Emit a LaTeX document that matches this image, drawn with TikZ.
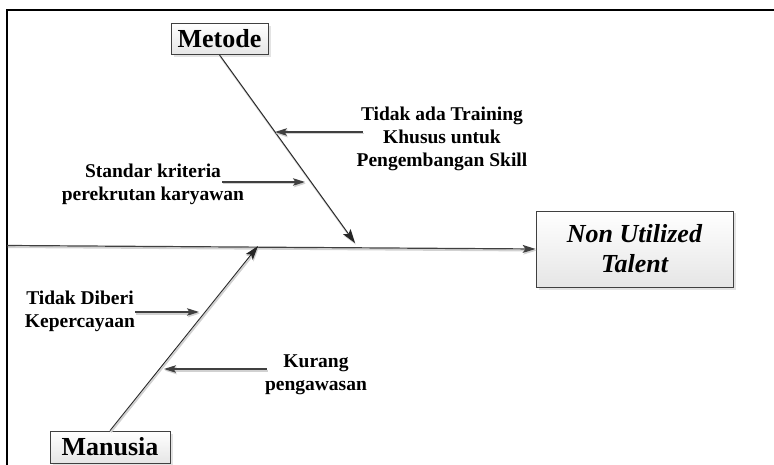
\documentclass[tikz,border=0pt]{standalone}
\usepackage{fontspec}
\setmainfont{Liberation Serif}
\usetikzlibrary{arrows.meta,shadows}
\begin{document}
\begin{tikzpicture}[x=1pt,y=-1pt,
  box/.style={draw=black!75, line width=0.8pt, top color=white, bottom color=black!10,
    drop shadow={shadow xshift=2.5pt, shadow yshift=-2.5pt, fill=black!22}, inner sep=0pt},
  causebox/.style={box, font=\fontsize{26}{30}\selectfont\bfseries},
  effectbox/.style={box, align=center, minimum width=197, minimum height=76,
    font=\fontsize{26}{30}\selectfont\bfseries\itshape},
  label/.style={align=center, inner sep=0pt, font=\fontsize{19.5}{23}\selectfont\bfseries},
  lineshadow/.style={preaction={draw=black!18, line width=1.8pt, transform canvas={shift={(0.8pt,-1.6pt)}}}},
  bone/.style={draw=black!85, line width=0.9pt, -{Stealth[length=14pt,width=9pt,inset=3pt]}, lineshadow},
  spine/.style={draw=black!75, line width=1.2pt, -{Stealth[length=13pt,width=8pt,inset=3pt]}, lineshadow},
  subarrow/.style={draw=black!75, line width=1.2pt, -{Stealth[length=12pt,width=7.5pt,inset=2.5pt]}, lineshadow}
]
\useasboundingbox (0,0) rectangle (774,465);

% page frame (top and left edges)
\draw[line width=1.2pt] (7,465) -- (7,10) -- (774,10);

% effect and main categories
\node[effectbox] (effect) at (634.5,249) {Non Utilized\\Talent};
\node[causebox, minimum width=97, minimum height=31] (metode) at (219.5,39) {Metode};
\node[causebox, minimum width=120, minimum height=32] (manusia) at (110,447) {Manusia};

% spine and bones
\coordinate (tail) at (7,245.5);
\coordinate (mhit) at (355,243);
\coordinate (hhit) at (258,246);
\draw[spine] (tail) -- (effect.west);
\draw[bone] (metode.south) -- (mhit);
\draw[bone] (manusia.north) -- (hhit);

% causes on the Metode bone
\node[label] (c1) at (442,139) {Tidak ada Training\\Khusus untuk\\Pengembangan Skill};
\coordinate (c1s) at (363,132);
\coordinate (c1e) at (275,132);
\draw[subarrow] (c1s) -- (c1e);

\node[label] (c2) at (153,184) {Standar kriteria\\perekrutan karyawan};
\coordinate (c2s) at (222,182);
\coordinate (c2e) at (305,182);
\draw[subarrow] (c2s) -- (c2e);

% causes on the Manusia bone
\node[label] (c3) at (80,311.5) {Tidak Diberi\\Kepercayaan};
\coordinate (c3s) at (135,312);
\coordinate (c3e) at (199,312);
\draw[subarrow] (c3s) -- (c3e);

\node[label] (c4) at (316,375) {Kurang\\pengawasan};
\coordinate (c4s) at (267,369);
\coordinate (c4e) at (164,369);
\draw[subarrow] (c4s) -- (c4e);
\end{tikzpicture}
\end{document}
